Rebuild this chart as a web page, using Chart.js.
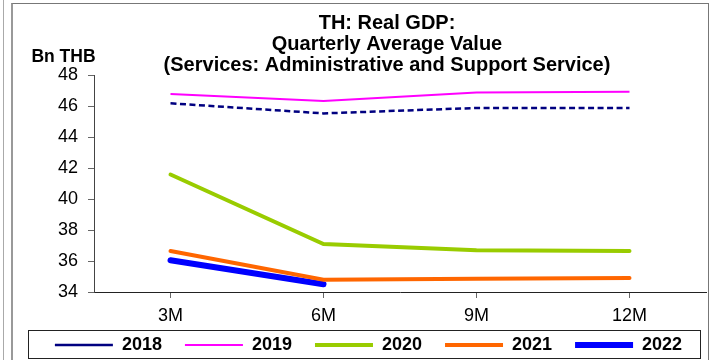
<!DOCTYPE html>
<html>
<head>
<meta charset="utf-8">
<script src="https://cdn.jsdelivr.net/npm/chart.js@4.4.1/dist/chart.umd.min.js"></script>
<style>
  html, body { margin: 0; padding: 0; background: #fff; }
  #wrap { position: relative; width: 712px; height: 360px; overflow: hidden; }
  #edge { position: absolute; left: 3px; top: 0; width: 0; height: 360px; border-left: 1px solid #aaa; }
  #frame { position: absolute; left: 11px; top: 3px; width: 695px; height: 380px; border: 1px solid #777; border-left: 2px solid #999; }
  canvas { position: absolute; left: 0; top: 0; }
</style>
</head>
<body>
<div id="wrap">
  <div id="edge"></div>
  <div id="frame"></div>
  <canvas id="gdpChart" width="712" height="360"></canvas>
</div>
<script>
const periods = ['3M', '6M', '9M', '12M'];
const y2018 = [46.2, 45.55, 45.9, 45.9];
const y2019 = [46.8, 46.35, 46.9, 46.95];
const y2020 = [41.6, 37.1, 36.7, 36.65];
const y2021 = [36.65, 34.8, 34.85, 34.9];
const y2022 = [36.05, 34.5];

const titleLines = ['TH: Real GDP:', 'Quarterly Average Value', '(Services: Administrative and Support Service)'];
const unitLabel = 'Bn THB';
const fontFamily = '"Liberation Sans", Arial, sans-serif';

// move title and legend after layout, draw legend frame + unit label
const extras = {
  id: 'extras',
  afterLayout(chart) {
    const t = chart.titleBlock;
    t.left = 67;
    t.right = 707;
    const lg = chart.legend;
    lg.left = 30;
    lg.right = 707;
    lg.top = 313;
    lg.height = 50;
    lg.bottom = 363;
  },
  afterDraw(chart) {
    const ctx = chart.ctx;
    ctx.save();
    ctx.strokeStyle = '#222';
    ctx.lineWidth = 1;
    ctx.strokeRect(28.5, 330.5, 672, 28);
    ctx.font = 'bold 17.5px ' + fontFamily;
    ctx.fillStyle = '#000';
    ctx.textAlign = 'center';
    ctx.textBaseline = 'middle';
    ctx.fillText(unitLabel, 63.5, 57);
    ctx.restore();
  }
};

const data = {
  labels: periods,
  datasets: [
    { label: '2018', data: y2018, borderColor: '#000080', backgroundColor: '#000080', borderWidth: 2.5, borderDash: [6, 3.5] },
    { label: '2019', data: y2019, borderColor: '#FF00FF', backgroundColor: '#FF00FF', borderWidth: 2 },
    { label: '2020', data: y2020, borderColor: '#99CC00', backgroundColor: '#99CC00', borderWidth: 4, borderCapStyle: 'round' },
    { label: '2021', data: y2021, borderColor: '#FF6600', backgroundColor: '#FF6600', borderWidth: 4, borderCapStyle: 'round' },
    { label: '2022', data: y2022, borderColor: '#0000FF', backgroundColor: '#0000FF', borderWidth: 6, borderCapStyle: 'round' }
  ]
};

const options = {
  responsive: false,
  animation: false,
  layout: { padding: { top: 4, left: 12, right: 6, bottom: 0 } },
  elements: { point: { radius: 0 }, line: { tension: 0 } },
  plugins: {
    tooltip: { enabled: false },
    title: {
      display: true,
      text: titleLines,
      color: '#000',
      font: { family: fontFamily, size: 20, weight: 'bold', lineHeight: 1.05 },
      padding: { top: 8.5, bottom: 0 }
    },
    legend: {
      position: 'bottom',
      maxHeight: 30,
      labels: {
        usePointStyle: true,
        pointStyle: 'line',
        pointStyleWidth: 58,
        boxWidth: 58,
        padding: 23,
        color: '#000',
        font: { family: fontFamily, size: 18, weight: 'bold' }
      }
    }
  },
  scales: {
    x: {
      offset: true,
      afterFit: (scale) => { scale.height = 360 - 292 - scale.chart.legend.height; },
      grid: { drawOnChartArea: false, drawTicks: true, tickLength: 6, color: '#666' },
      border: { color: '#222', width: 1 },
      ticks: { color: '#000', padding: 7, font: { family: fontFamily, size: 18 } }
    },
    y: {
      min: 34,
      max: 48,
      afterFit: (scale) => { scale.width = 82; },
      grid: { drawOnChartArea: false, drawTicks: true, tickLength: 6, color: '#666' },
      border: { color: '#444', width: 1 },
      ticks: { stepSize: 2, color: '#000', padding: 10, font: { family: fontFamily, size: 18 } }
    }
  }
};

new Chart(document.getElementById('gdpChart'), {
  type: 'line',
  data,
  options,
  plugins: [extras]
});
</script>
</body>
</html>
